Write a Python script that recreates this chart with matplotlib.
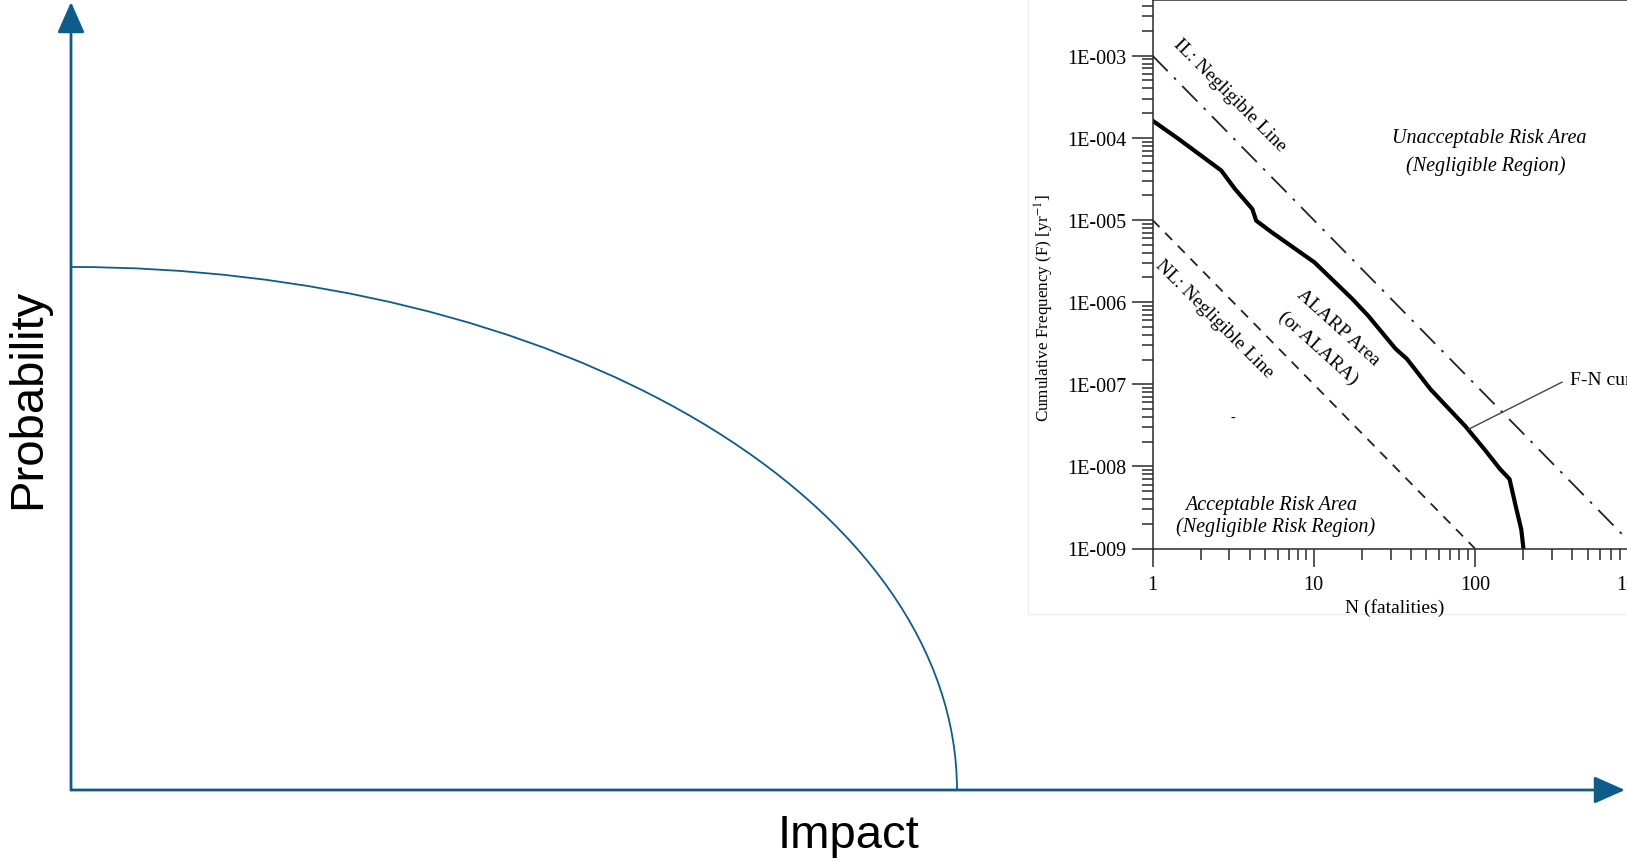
import matplotlib.pyplot as plt
from matplotlib.patches import Arc, Rectangle
from matplotlib.ticker import FixedLocator, LogLocator, NullFormatter

# main concept chart (axes units 0..1 from the origin)
impact_max = 0.5694
prob_max = 0.6612
arrow_x_end = 0.9987
arrow_y_end = 0.9962

# inset F-N chart data
fn_n = [1, 1.45, 2.67, 3.25, 4.16, 4.40, 5.48, 10.1, 17.3, 21.8, 32.2, 37.9,
        53, 66, 87, 115, 143, 164, 179, 194, 200]
fn_f = [1.62e-4, 9.7e-5, 4.0e-5, 2.38e-5, 1.36e-5, 9.8e-6, 7.1e-6, 3.05e-6,
        1.1e-6, 6.8e-7, 2.7e-7, 2.03e-7, 8.7e-8, 5.5e-8, 3.1e-8, 1.6e-8,
        9.3e-9, 7.0e-9, 3.3e-9, 1.7e-9, 1.0e-9]
il_n = [1, 1000]
il_f = [1e-3, 1e-9]
nl_n = [1, 100]
nl_f = [1e-5, 1e-9]
x_ticks = [1, 10, 100, 1000]
x_labels = ['1', '10', '100', '1000']
y_ticks = [1e-9, 1e-8, 1e-7, 1e-6, 1e-5, 1e-4, 1e-3]
y_labels = ['1E-009', '1E-008', '1E-007', '1E-006', '1E-005', '1E-004', '1E-003']

BLUE = '#0e5c8a'
plt.rcParams['mathtext.fontset'] = 'stix'

fig = plt.figure(figsize=(16.27, 8.62), dpi=100)

# ---- main axes with arrows
ax = fig.add_axes([71 / 1627, 71 / 862, (1627 - 71) / 1627, (862 - 71) / 862])
ax.set_xlim(0, 1)
ax.set_ylim(0, 1)
ax.axis('off')

arrow = dict(arrowstyle='-|>,head_length=0.95,head_width=0.42', color=BLUE,
             lw=2.0, mutation_scale=20, shrinkA=0, shrinkB=0)
ax.annotate('', xy=(arrow_x_end, 0), xytext=(0, 0), arrowprops=arrow,
            annotation_clip=False)
ax.annotate('', xy=(0, arrow_y_end), xytext=(0, 0), arrowprops=arrow,
            annotation_clip=False)
ax.add_patch(Arc((0, 0), 2 * impact_max, 2 * prob_max, theta1=0, theta2=90,
                 color=BLUE, lw=1.3))

fig.text(28 / 1627, 1 - 399 / 862, 'Probability', rotation=90, fontsize=34,
         family='Liberation Sans', ha='center', va='center')
fig.text(849 / 1627, 1 - 836 / 862, 'Impact', fontsize=34,
         family='Liberation Sans', ha='center', va='center')

# ---- pasted F-N chart background
fig.patches.append(Rectangle((1028 / 1627, 1 - 615 / 862), 0.5, 0.8,
                             transform=fig.transFigure, facecolor='white',
                             edgecolor='#ececec', lw=1, zorder=-5))

serif = 'Liberation Serif'
ins = fig.add_axes([1152.5 / 1627, 1 - 549.5 / 862, 483.6 / 1627, 548.5 / 862])
ins.set_zorder(5)
ins.set_xscale('log')
ins.set_yscale('log')
ins.set_xlim(1, 1000)
ins.set_ylim(1e-9, 10 ** -2.322)
ins.set_facecolor('none')
for s in ins.spines.values():
    s.set_color('#2a2a2a')
    s.set_linewidth(1.1)

ins.plot(fn_n, fn_f, color='black', lw=3.0, solid_joinstyle='round')
ins.plot(il_n, il_f, color='#222222', lw=1.3, dashes=(12, 5, 1.5, 5))
ins.plot(nl_n, nl_f, color='#222222', lw=1.3, dashes=(5.5, 4.5))
ins.plot([92, 347], [2.85e-8, 1.06e-7], color='#444444', lw=1.0)

ins.xaxis.set_major_locator(FixedLocator(x_ticks))
ins.set_xticklabels(x_labels)
ins.xaxis.set_minor_locator(LogLocator(base=10, subs=range(2, 10)))
ins.xaxis.set_minor_formatter(NullFormatter())
ins.yaxis.set_major_locator(FixedLocator(y_ticks))
ins.set_yticklabels(y_labels)
ins.yaxis.set_minor_locator(LogLocator(base=10, subs=range(2, 10)))
ins.yaxis.set_minor_formatter(NullFormatter())
ins.tick_params(axis='x', which='major', direction='out', length=13, width=1.1,
                pad=6, labelsize=14.5, color='#2a2a2a')
ins.tick_params(axis='y', which='major', direction='out', length=15, width=1.1,
                pad=4, labelsize=14.5, color='#2a2a2a')
ins.tick_params(which='minor', direction='out', length=8, width=1.1,
                color='#2a2a2a')
for lab in ins.get_xticklabels() + ins.get_yticklabels():
    lab.set_family(serif)

ins.set_xlabel('N (fatalities)', family=serif, fontsize=14, labelpad=3)
ins.set_ylabel('Cumulative Frequency (F) [yr$^{-1}$]', family=serif,
               fontsize=12.3)
ins.yaxis.set_label_coords(-0.199, 0.44)

it = dict(family=serif, style='italic', fontsize=14.5, ha='center', va='center')
ins.text(122, 1.02e-4, 'Unacceptable Risk Area', **it)
ins.text(117, 4.67e-5, '(Negligible Region)', **it)
ins.text(5.43, 3.45e-9, 'Acceptable Risk Area', **it)
ins.text(5.84, 1.88e-9, '(Negligible Risk Region)', **it)

rt = dict(family=serif, fontsize=14, ha='center', va='center',
          rotation_mode='anchor')
ins.text(3.03, 3.4e-4, 'IL: Negligible Line', rotation=-45, **rt)
ins.text(2.41, 6.4e-7, 'NL: Negligible Line', rotation=-45, **rt)
ins.text(14.2, 5.0e-7, 'ALARP Area', rotation=-42, **rt)
ins.text(10.6, 2.8e-7, '(or ALARA)', rotation=-42, **rt)
ins.text(3.16, 4.0e-8, '-', family=serif, fontsize=10, ha='center', va='center')
ins.text(389, 1.13e-7, 'F-N curve', family=serif, fontsize=14, ha='left',
         va='center', clip_on=False)

fig.savefig('out.png', dpi=100)
